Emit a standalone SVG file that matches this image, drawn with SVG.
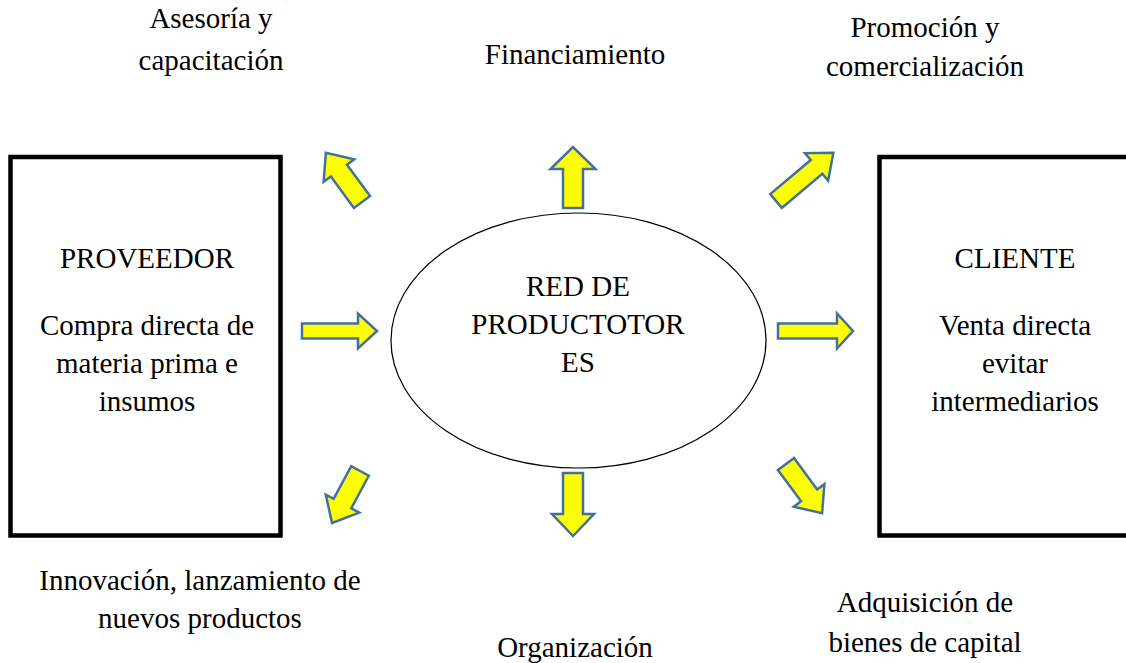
<svg xmlns="http://www.w3.org/2000/svg" width="1126" height="663" viewBox="0 0 1126 663">
<style>
text{font-family:"Liberation Serif","Times New Roman",serif;font-size:29px;fill:#000;text-anchor:middle}
.box{fill:#fff;stroke:#000;stroke-width:4.5}
.arr{fill:#FFFF00;stroke:#41719C;stroke-width:2.5;stroke-linejoin:miter}
</style>
<rect width="1126" height="663" fill="#fff"/>
<g id="proveedor">
<rect class="box" x="10.5" y="157" width="270" height="378.5"/>
<text x="147" y="268">PROVEEDOR</text>
<text x="147" y="335">Compra directa de</text>
<text x="147" y="373">materia prima e</text>
<text x="147" y="411">insumos</text>
</g>
<g id="cliente">
<rect class="box" x="879.5" y="157" width="260" height="378.5"/>
<text x="1015" y="268">CLIENTE</text>
<text x="1015" y="335">Venta directa</text>
<text x="1015" y="373">evitar</text>
<text x="1015" y="411">intermediarios</text>
</g>
<g id="red">
<ellipse cx="578.5" cy="340.5" rx="187.5" ry="127.5" fill="#fff" stroke="#000" stroke-width="1.2"/>
<text x="578" y="296">RED DE</text>
<text x="578" y="334">PRODUCTOTOR</text>
<text x="578" y="372">ES</text>
</g>
<g id="labels">
<text x="211" y="28">Asesoría y</text>
<text x="211" y="70">capacitación</text>
<text x="575" y="64">Financiamiento</text>
<text x="925" y="37">Promoción y</text>
<text x="925" y="76">comercialización</text>
<text x="200" y="590">Innovación, lanzamiento de</text>
<text x="200" y="628">nuevos productos</text>
<text x="575" y="657">Organización</text>
<text x="925" y="612">Adquisición de</text>
<text x="925" y="652">bienes de capital</text>
</g>
<g id="connectors">
<path class="arr" transform="translate(302,331)" d="M0,-7.5 L56,-7.5 L56,-17.5 L75,0 L56,17.5 L56,7.5 L0,7.5 Z"/>
<path class="arr" transform="translate(778,331)" d="M0,-7.5 L59,-7.5 L59,-17.5 L75,0 L59,17.5 L59,7.5 L0,7.5 Z"/>
<path class="arr" transform="translate(573,208) rotate(-90)" d="M0,-10 L39,-10 L39,-22.5 L61,0 L39,22.5 L39,10 L0,10 Z"/>
<path class="arr" transform="translate(573,473) rotate(90)" d="M0,-10 L41,-10 L41,-21 L63,0 L41,21 L41,10 L0,10 Z"/>
<path class="arr" transform="translate(362,202) rotate(-126.3)" d="M0,-10 L39,-10 L39,-19 L61,0 L39,19 L39,10 L0,10 Z"/>
<path class="arr" transform="translate(776,201) rotate(-40.1)" d="M0,-9 L53,-9 L53,-18 L75,0 L53,18 L53,9 L0,9 Z"/>
<path class="arr" transform="translate(360,471) rotate(118.3)" d="M0,-10 L37,-10 L37,-19 L59,0 L37,19 L37,10 L0,10 Z"/>
<path class="arr" transform="translate(786,464) rotate(53.7)" d="M0,-10 L39,-10 L39,-19 L61,0 L39,19 L39,10 L0,10 Z"/>
</g>
</svg>
